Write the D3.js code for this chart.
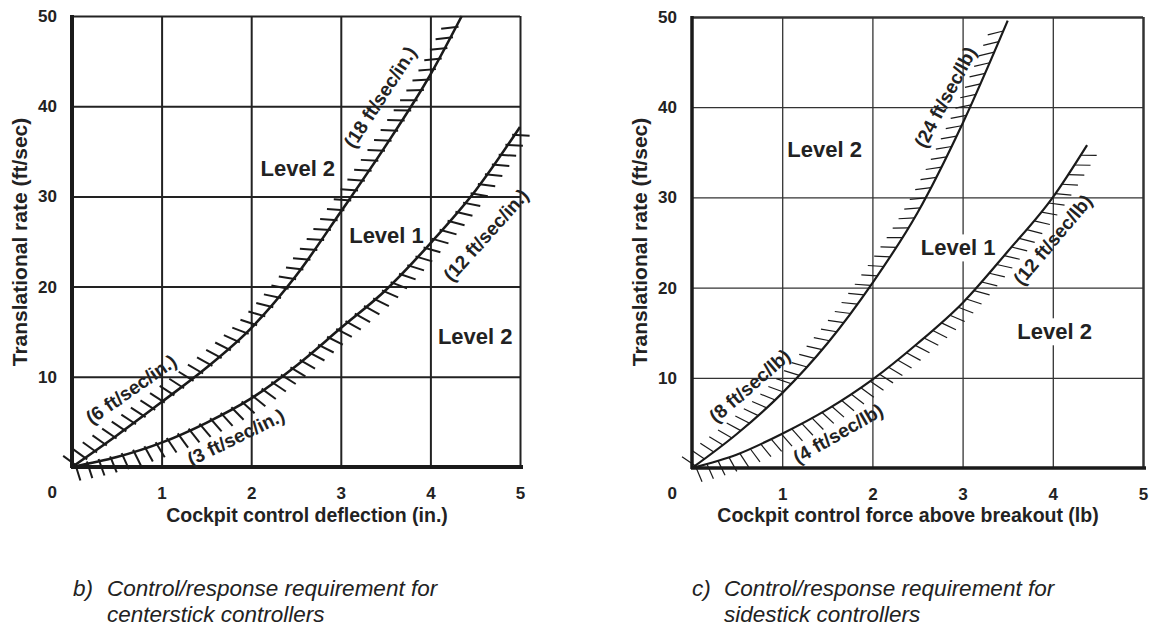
<!DOCTYPE html>
<html>
<head>
<meta charset="utf-8">
<script src="https://cdn.jsdelivr.net/npm/d3@7"></script>
<style>
  body { margin: 0; background: #fff; }
  svg { display: block; font-family: "Liberation Sans", Arial, sans-serif; }
</style>
</head>
<body>
<svg id="chart" width="1150" height="626"></svg>
<script>
// --- tick values (the shared "0" sits at the corner) ---
const xTicks = [1, 2, 3, 4, 5];
const yTicks = [10, 20, 30, 40, 50];

// --- b) centerstick: deflection (in.) vs translational rate (ft/sec) ---
const centerUpperX = [0, 0.5, 1, 1.5, 2, 2.5, 3, 3.5, 4, 4.35];
const centerUpperY = [0, 3.5, 7.2, 11, 15.4, 21.2, 28.3, 35.6, 43.5, 50];
const centerLowerX = [0, 0.5, 1, 1.5, 2, 2.5, 3, 3.5, 4, 4.5, 5];
const centerLowerY = [0, 1.1, 2.7, 4.9, 7.6, 11.2, 15.4, 19.6, 24.8, 30.6, 37.7];

// --- c) sidestick: force above breakout (lb) vs translational rate ---
const sideUpperX = [0, 0.5, 1, 1.5, 2, 2.5, 3, 3.5];
const sideUpperY = [0, 3.8, 8.3, 13.8, 20.5, 28.3, 38.2, 49.6];
const sideLowerX = [0, 0.5, 1, 1.5, 2, 2.5, 3, 3.5, 4, 4.38];
const sideLowerY = [0, 1.5, 3.8, 6.5, 9.8, 13.8, 18.3, 24, 30, 35.8];

const svg = d3.select("#chart");

const panels = [
    {
        xRange: [72, 520], yRange: [467, 16],
        gridW: 2, gridC: "#222", axisW: 4, borderW: 2,
        curveW: 2.6, hatchW: 2, hatchLen: 15, hatchBack: 2.5, hatchStep: 12,
        upper: [centerUpperX, centerUpperY], lower: [centerLowerX, centerLowerY],
        yTitleX: 27, xTitleX: 307,
        xTitle: "Cockpit control deflection (in.)",
        levels: [
            { t: "Level 2", x: 2.52, y: 33.1 },
            { t: "Level 1", x: 3.51, y: 25.7 },
            { t: "Level 2", x: 4.5, y: 14.5 }
        ],
        notes: [
            { t: "(6 ft/sec/in.)", x: 0.66, y: 8.6, a: -35 },
            { t: "(18 ft/sec/in.)", x: 3.44, y: 41, a: -57 },
            { t: "(3 ft/sec/in.)", x: 1.83, y: 3.3, a: -26 },
            { t: "(12 ft/sec/in.)", x: 4.62, y: 25.7, a: -48 }
        ],
        capX: 73, capTextX: 107,
        caption: ["b)", "Control/response requirement for", "centerstick controllers"]
    },
    {
        xRange: [692, 1143], yRange: [468, 17],
        gridW: 1.3, gridC: "#333", axisW: 3.5, borderW: 2.5,
        curveW: 2.2, hatchW: 1.2, hatchLen: 16, hatchBack: 0, hatchStep: 11.5,
        upper: [sideUpperX, sideUpperY], lower: [sideLowerX, sideLowerY],
        yTitleX: 647, xTitleX: 908,
        xTitle: "Cockpit control force above breakout (lb)",
        levels: [
            { t: "Level 2", x: 1.47, y: 35.3 },
            { t: "Level 1", x: 2.95, y: 24.4 },
            { t: "Level 2", x: 4.02, y: 15.1 }
        ],
        notes: [
            { t: "(8 ft/sec/lb)", x: 0.64, y: 9.1, a: -41 },
            { t: "(24 ft/sec/lb)", x: 2.81, y: 41.1, a: -62 },
            { t: "(4 ft/sec/lb)", x: 1.62, y: 3.8, a: -30 },
            { t: "(12 ft/sec/lb)", x: 4.0, y: 25.3, a: -50 }
        ],
        capX: 692, capTextX: 724,
        caption: ["c)", "Control/response requirement for", "sidestick controllers"]
    }
];

panels.forEach(drawPanel);

function drawPanel(p) {
    const x = d3.scaleLinear().domain([0, 5]).range(p.xRange);
    const y = d3.scaleLinear().domain([0, 50]).range(p.yRange);
    const [x0, x1] = p.xRange;
    const [y0, y1] = p.yRange;
    const g = svg.append("g");

    // vertical grid + x tick labels
    const gx = g.append("g")
        .attr("transform", `translate(0,${y0})`)
        .call(d3.axisBottom(x).tickValues(xTicks).tickFormat(d3.format("d"))
            .tickSize(-(y0 - y1)).tickPadding(20));
    gx.select(".domain").remove();

    // horizontal grid + y tick labels
    const gy = g.append("g")
        .attr("transform", `translate(${x0},0)`)
        .call(d3.axisLeft(y).tickValues(yTicks).tickFormat(d3.format("d"))
            .tickSize(-(x1 - x0)).tickPadding(15));
    gy.select(".domain").remove();

    [gx, gy].forEach(a => {
        a.selectAll(".tick line").attr("stroke", p.gridC).attr("stroke-width", p.gridW);
        a.selectAll(".tick text")
            .attr("fill", "#222")
            .style("font-size", "17px")
            .style("font-weight", "bold");
    });
    // outer border (top / right)
    gx.selectAll(".tick").filter(d => d === 5).select("line").attr("stroke-width", p.borderW);
    gy.selectAll(".tick").filter(d => d === 50).select("line").attr("stroke-width", p.borderW);

    // corner zero
    g.append("text")
        .attr("x", x0 - 15).attr("y", y0 + 31)
        .attr("text-anchor", "end").attr("fill", "#222")
        .style("font-size", "17px").style("font-weight", "bold")
        .text("0");

    // heavy left and bottom axes
    g.append("line").attr("x1", x0).attr("x2", x0).attr("y1", y0 + 1).attr("y2", y1 - 1)
        .attr("stroke", "#1a1a1a").attr("stroke-width", p.axisW);
    g.append("line").attr("x1", x0 - 1).attr("x2", x1 + 3).attr("y1", y0).attr("y2", y0)
        .attr("stroke", "#1a1a1a").attr("stroke-width", p.axisW);

    // level labels with white backing (they break the grid lines)
    const bg = g.append("g");
    const lv = g.append("g");
    p.levels.forEach(l => {
        const t = lv.append("text")
            .attr("x", x(l.x)).attr("y", y(l.y))
            .attr("text-anchor", "middle").attr("dominant-baseline", "central")
            .attr("fill", "#222")
            .style("font-size", "22px").style("font-weight", "bold")
            .text(l.t);
        const b = t.node().getBBox();
        bg.append("rect")
            .attr("x", b.x - 3).attr("y", b.y - 1)
            .attr("width", b.width + 6).attr("height", b.height + 2)
            .attr("fill", "#fff");
    });

    // boundary curves with hatching
    const line = d3.line()
        .x(d => x(d[0]))
        .y(d => y(d[1]))
        .curve(d3.curveMonotoneX);

    [[p.upper, 1], [p.lower, -1]].forEach(([xy, side]) => {
        const pts = d3.zip(xy[0], xy[1]);
        const path = g.append("path")
            .attr("d", line(pts))
            .attr("fill", "none")
            .attr("stroke", "#1a1a1a")
            .attr("stroke-width", p.curveW);
        drawHatch(g, path.node(), side, p);
    });

    // slope annotations along curves
    p.notes.forEach(n => {
        g.append("text")
            .attr("transform", `translate(${x(n.x)},${y(n.y)}) rotate(${n.a})`)
            .attr("text-anchor", "middle").attr("dominant-baseline", "central")
            .attr("fill", "#222")
            .style("font-size", "19px").style("font-weight", "bold")
            .text(n.t);
    });

    // axis titles
    g.append("text")
        .attr("transform", `translate(${p.yTitleX},242) rotate(-90)`)
        .attr("text-anchor", "middle").attr("fill", "#222")
        .style("font-size", "21px").style("font-weight", "bold")
        .text("Translational rate (ft/sec)");
    g.append("text")
        .attr("x", p.xTitleX).attr("y", 522)
        .attr("text-anchor", "middle").attr("fill", "#222")
        .style("font-size", "19.5px").style("font-weight", "bold")
        .text(p.xTitle);

    // caption
    const cap = g.append("g").attr("fill", "#222")
        .style("font-size", "22.5px").style("font-style", "italic");
    cap.append("text").attr("x", p.capX).attr("y", 596).text(p.caption[0]);
    cap.append("text").attr("x", p.capTextX).attr("y", 596).text(p.caption[1]);
    cap.append("text").attr("x", p.capTextX).attr("y", 622).text(p.caption[2]);
}

function drawHatch(g, node, side, p) {
    const total = node.getTotalLength();
    const hg = g.append("g").attr("stroke", "#1a1a1a").attr("stroke-width", p.hatchW);
    for (let L = 4; L < total - 2; L += p.hatchStep) {
        const a = node.getPointAtLength(Math.max(0, L - 1.5));
        const b = node.getPointAtLength(Math.min(total, L + 1.5));
        const c = node.getPointAtLength(L);
        const th = Math.atan2(-(b.y - a.y), b.x - a.x);
        // hatch sits off the curve, leaning towards horizontal where the curve is steep
        const h = th + side * Math.PI / 2 + 0.55 * th;
        const dx = Math.cos(h), dy = -Math.sin(h);
        hg.append("line")
            .attr("x1", c.x - dx * p.hatchBack).attr("y1", c.y - dy * p.hatchBack)
            .attr("x2", c.x + dx * p.hatchLen).attr("y2", c.y + dy * p.hatchLen);
    }
}
</script>
</body>
</html>
